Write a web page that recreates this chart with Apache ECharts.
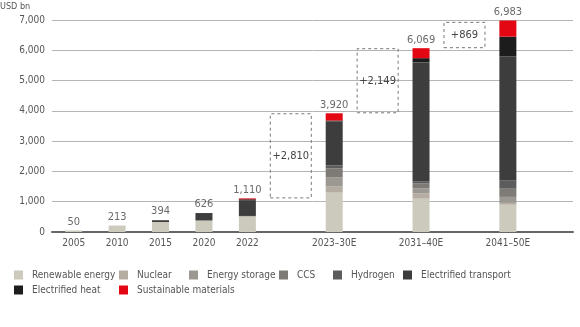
<!DOCTYPE html>
<html>
<head>
<meta charset="utf-8">
<script src="https://cdn.jsdelivr.net/npm/echarts@6/dist/echarts.min.js"></script>
<style>html,body{margin:0;padding:0;background:#fff}#c{width:580px;height:327px}</style>
</head>
<body>
<div id="c"></div>
<script>
const categories = ['2005','2010','2015','2020','2022','g1','2023–30E','g2','2031–40E','g3','2041–50E','g4'];
const renewable  = [50, 213, 330, 380, 500, null, 1300, null, 1100, null, 900, null];
const nuclear    = [0, 0, 0, 0, 30, null, 200, null, 180, null, 60, null];
const storage    = [0, 0, 0, 0, 0, null, 300, null, 160, null, 200, null];
const ccs        = [0, 0, 0, 0, 0, null, 300, null, 160, null, 270, null];
const hydrogen   = [0, 0, 0, 0, 0, null, 100, null, 80, null, 280, null];
const transport  = [0, 0, 50, 220, 520, null, 1450, null, 3920, null, 4080, null];
const heat       = [0, 0, 14, 26, 30, null, 30, null, 140, null, 660, null];
const materials  = [0, 0, 0, 0, 30, null, 240, null, 329, null, 533, null];
const totals     = [50, 213, 394, 626, 1110, null, 3920, null, 6069, null, 6983, null];
const wfBase     = [null, null, null, null, null, 1110, null, 3920, null, 6069, null, null];
const wfDelta    = [null, null, null, null, null, 2810, null, 2149, null, 869, null, null];
const yTicks = [0, 1000, 2000, 3000, 4000, 5000, 6000, 7000];

const seriesNames = ['Renewable energy','Nuclear','Energy storage','CCS','Hydrogen','Electrified transport','Electrified heat','Sustainable materials'];
const seriesData = [renewable, nuclear, storage, ccs, hydrogen, transport, heat, materials];
const colors = ['#cbcabd','#b6ada2','#9b9892','#7e7b76','#5d5c5c','#3d3d3d','#1c1c1c','#e30613'];

const fmt = v => Number(v).toLocaleString('en-US');
const FONT = '"Liberation Sans Narrow", "DejaVu Sans Condensed", "Open Sans", sans-serif';

const series = seriesNames.map((n, i) => ({
  name: n, type: 'bar', stack: 'main', barWidth: 17,
  xAxisIndex: 0, data: seriesData[i], itemStyle: {color: colors[i]}
}));
series.push({
  type: 'scatter', xAxisIndex: 0, data: totals, symbolSize: 0, silent: true,
  label: {show: true, position: 'top', distance: 3, formatter: p => fmt(p.value), color: '#444', fontSize: 11, fontFamily: FONT}
});
series.push({
  type: 'bar', stack: 'wf', xAxisIndex: 1, barWidth: 42, data: wfBase, silent: true,
  itemStyle: {color: 'transparent'}
});
series.push({
  type: 'bar', stack: 'wf', xAxisIndex: 1, barWidth: 42, data: wfDelta, silent: true,
  itemStyle: {color: 'transparent', borderColor: '#777', borderWidth: 1, borderType: [3, 3]},
  label: {show: true, position: 'inside', formatter: p => '+' + fmt(p.value), color: '#444', fontSize: 11, fontFamily: FONT}
});

const legendPos = [[14,270],[119,270],[189,270],[279,270],[333,270],[403,270],[14,285],[119,285]];
const legends = seriesNames.map((n, i) => ({
  data: [n], left: legendPos[i][0], top: legendPos[i][1], itemWidth: 9, itemHeight: 9, itemGap: 0,
  padding: 0, icon: 'rect', selectedMode: false,
  textStyle: {color: '#555', fontSize: 10, fontFamily: FONT, padding: [0,0,0,4]}
}));

const chart = echarts.init(document.getElementById('c'), null, {renderer: 'canvas'});
chart.setOption({
  animation: false,
  textStyle: {fontFamily: FONT},
  title: {text: 'USD bn', left: 0, top: 2, padding: 0, textStyle: {fontSize: 9, fontWeight: 'normal', color: '#555', fontFamily: FONT}},
  legend: legends,
  grid: {left: 52, right: 7, top: 20, bottom: 95},
  xAxis: [
    {type: 'category', data: categories,
     axisLine: {lineStyle: {color: '#666', width: 2}}, axisTick: {show: false},
     axisLabel: {color: '#555', fontSize: 10, fontFamily: FONT, margin: 6,
                 formatter: v => v.charAt(0) === 'g' ? '' : v, interval: 0}},
    {type: 'category', data: categories, show: false}
  ],
  yAxis: {type: 'value', min: yTicks[0], max: yTicks[yTicks.length-1], interval: 1000,
    axisLine: {show: false}, axisTick: {show: false},
    splitLine: {lineStyle: {color: '#b5b5b5', width: 1}},
    axisLabel: {color: '#555', fontSize: 10, fontFamily: FONT, margin: 7, formatter: v => fmt(v)}},
  series: series
});
</script>
</body>
</html>
